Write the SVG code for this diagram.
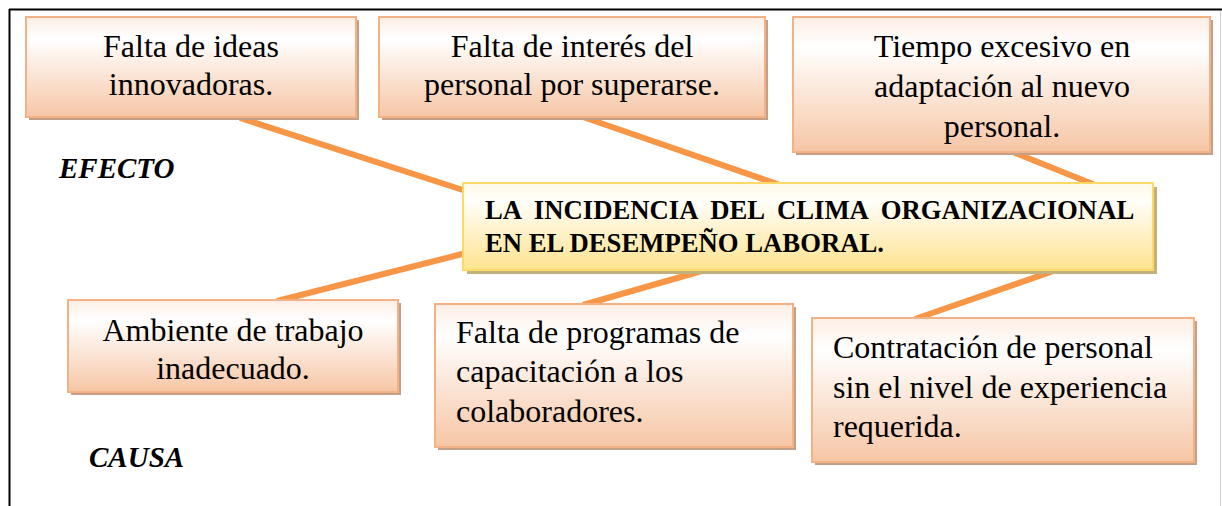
<svg xmlns="http://www.w3.org/2000/svg" width="1222" height="506" viewBox="0 0 1222 506">
<defs>
<linearGradient id="peach" x1="0" y1="0" x2="0" y2="1">
<stop offset="0" stop-color="#fdeee4"/>
<stop offset="0.22" stop-color="#ffffff"/>
<stop offset="1" stop-color="#f6c6a5"/>
</linearGradient>
<linearGradient id="gold" x1="0" y1="0" x2="0" y2="1">
<stop offset="0" stop-color="#fff8e6"/>
<stop offset="0.2" stop-color="#fffefa"/>
<stop offset="1" stop-color="#ffe38f"/>
</linearGradient>
<style>
.box{fill:url(#peach);stroke:#f4b183;stroke-width:2}
.sh{fill:#c4a088}
.cbox{fill:url(#gold);stroke:#ffd966;stroke-width:2}
.csh{fill:#c2b17c}
text{font-family:'Liberation Serif','Times New Roman',serif;fill:#000}
.t{font-size:32px}
.c{text-anchor:middle}
.title{font-size:26.7px;font-weight:bold}
.lab{font-size:29px;font-weight:bold;font-style:italic}
.con{stroke:#f79646;stroke-width:6;fill:none}
</style>
</defs>
<rect width="1222" height="506" fill="#ffffff"/>
<g id="frame">
<line x1="9" y1="9.5" x2="1222" y2="9.5" stroke="#000" stroke-width="2"/>
<line x1="9.5" y1="9" x2="9.5" y2="506" stroke="#000" stroke-width="2"/>
<line x1="1220.5" y1="11" x2="1220.5" y2="506" stroke="#cfcfcf" stroke-width="1"/>
</g>
<g id="connectors">
<line class="con" x1="240" y1="118" x2="466" y2="191"/>
<line class="con" x1="583" y1="117" x2="780" y2="185"/>
<line class="con" x1="1013" y1="152" x2="1095" y2="185"/>
<line class="con" x1="277" y1="301" x2="466" y2="253"/>
<line class="con" x1="712" y1="268" x2="583" y2="305"/>
<line class="con" x1="1062" y1="268" x2="915" y2="319"/>
</g>
<g id="efecto1">
<rect class="sh" x="29" y="20" width="330" height="100"/>
<rect class="box" x="26" y="17" width="330" height="100"/>
<text class="t c" x="191" y="57">Falta de ideas</text>
<text class="t c" x="191" y="95">innovadoras.</text>
</g>
<g id="efecto2">
<rect class="sh" x="382" y="20" width="386" height="100"/>
<rect class="box" x="379" y="17" width="386" height="100"/>
<text class="t c" x="572" y="57">Falta de interés del</text>
<text class="t c" x="572" y="95">personal por superarse.</text>
</g>
<g id="efecto3">
<rect class="sh" x="796" y="20" width="417" height="135"/>
<rect class="box" x="793" y="17" width="417" height="135"/>
<text class="t c" x="1002" y="57">Tiempo excesivo en</text>
<text class="t c" x="1002" y="97">adaptación al nuevo</text>
<text class="t c" x="1002" y="137">personal.</text>
</g>
<g id="problema">
<rect class="csh" x="467" y="187" width="690" height="87"/>
<rect class="cbox" x="463" y="183" width="690" height="87"/>
<text class="title" x="485" y="219" word-spacing="6.6">LA INCIDENCIA DEL CLIMA ORGANIZACIONAL</text>
<text class="title" x="485" y="252">EN EL DESEMPEÑO LABORAL.</text>
</g>
<g id="causa1">
<rect class="sh" x="71" y="303" width="330" height="92"/>
<rect class="box" x="68" y="300" width="330" height="92"/>
<text class="t c" x="233" y="341">Ambiente de trabajo</text>
<text class="t c" x="233" y="379">inadecuado.</text>
</g>
<g id="causa2">
<rect class="sh" x="438" y="307" width="358" height="143"/>
<rect class="box" x="435" y="304" width="358" height="143"/>
<text class="t" x="456" y="343">Falta de programas de</text>
<text class="t" x="456" y="382">capacitación a los</text>
<text class="t" x="456" y="422">colaboradores.</text>
</g>
<g id="causa3">
<rect class="sh" x="815" y="321" width="382" height="144"/>
<rect class="box" x="812" y="318" width="382" height="144"/>
<text class="t" x="833" y="358">Contratación de personal</text>
<text class="t" x="833" y="398">sin el nivel de experiencia</text>
<text class="t" x="833" y="437">requerida.</text>
</g>
<g id="labels">
<text class="lab" x="59" y="178">EFECTO</text>
<text class="lab" x="89" y="467">CAUSA</text>
</g>
</svg>
